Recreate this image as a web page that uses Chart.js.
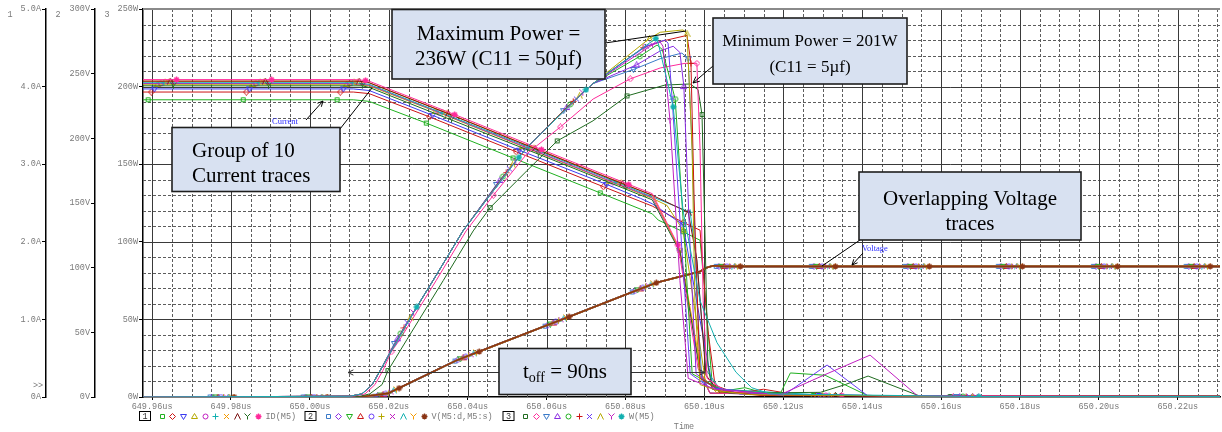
<!DOCTYPE html>
<html>
<head>
<meta charset="utf-8">
<title>ID(M5), V(M5:d,M5:s), W(M5)</title>
<script src="https://cdn.jsdelivr.net/npm/chart.js@4.4.1/dist/chart.umd.min.js"></script>
<style>
  html, body { margin: 0; padding: 0; background: #fff; }
  #wrap { width: 1222px; height: 432px; }
</style>
</head>
<body>
<div id="wrap"><canvas id="chart" width="1222" height="432"></canvas></div>
<script>
// time axis (us)
const X_MIN = 649.9577;
const X_MAX = 650.2307;
const xTickValues = [649.96, 649.98, 650.00, 650.02, 650.04, 650.06, 650.08, 650.10, 650.12, 650.14, 650.16, 650.18, 650.20, 650.22];

// colours / marker shapes per run (PSpice trace cycle)
const shapes = ['sq', 'dia', 'tdn', 'tup', 'circ', 'plus', 'x', 'lam', 'y', 'star'];
const curColors = ['#1fb01f', '#cc1414', '#3a3af0', '#b5a800', '#c01ec0', '#12b0b0', '#f59b00', '#7a1010', '#1f6b1f', '#ff2a9a'];
const voltColors = ['#3a7ac8', '#8a2be2', '#1fb01f', '#cc1414', '#6a3df5', '#b5a800', '#c01ec0', '#12b0b0', '#f59b00', '#8a3414'];
const powColors = ['#1f6b1f', '#ff2a9a', '#3a7ac8', '#8a2be2', '#1fb01f', '#cc1414', '#6a3df5', '#b5a800', '#c01ec0', '#12b0b0'];

// ID(M5), amps. [time, value, marker?]
const curTraces = [
  [[649.9577,3.83],[649.9590,3.83,1],[649.9831,3.83,1],[650.0069,3.83,1],[650.0110,3.83],[650.0150,3.81],[650.0295,3.53,1],[650.0515,3.08,1],[650.0736,2.63,1],[650.0868,2.36],[650.0883,2.28],[650.0946,2.13,1],[650.0989,2.02],[650.1004,1.20],[650.1020,0.15],[650.1052,0.08],[650.1103,0.12],[650.1167,0.03],[650.1276,0.02,1],[650.2307,0.01]],
  [[649.9577,3.93],[649.9598,3.93,1],[649.9839,3.93,1],[650.0077,3.93,1],[650.0110,3.93],[650.0150,3.91],[650.0303,3.61,1],[650.0523,3.16,1],[650.0744,2.71,1],[650.0868,2.46],[650.0946,2.25,1],[650.0989,2.15],[650.1009,0.86],[650.1027,0.15],[650.1080,0.05],[650.1150,0.10],[650.1243,0.02],[650.1284,0.02,1],[650.2307,0.01]],
  [[649.9577,3.97],[649.9606,3.97,1],[649.9847,3.97,1],[650.0085,3.97,1],[650.0110,3.97],[650.0150,3.95],[650.0311,3.63,1],[650.0531,3.18,1],[650.0752,2.74,1],[650.0838,2.56],[650.0868,2.49],[650.0946,2.22,1],[650.0989,0.99],[650.1020,0.15],[650.1065,0.05],[650.1292,0.02,1],[650.2307,0.01]],
  [[649.9577,4.03],[649.9614,4.03,1],[649.9855,4.03,1],[650.0093,4.03,1],[650.0110,4.03],[650.0150,4.01],[650.0319,3.68,1],[650.0539,3.23,1],[650.0760,2.78,1],[650.0868,2.56],[650.0905,2.47],[650.0946,2.15,1],[650.1002,0.22],[650.1040,0.06],[650.1300,0.02,1],[650.2307,0.01]],
  [[649.9577,4.04],[649.9622,4.04,1],[649.9863,4.04,1],[650.0101,4.04,1],[650.0110,4.04],[650.0150,4.02],[650.0327,3.67,1],[650.0547,3.22,1],[650.0768,2.77,1],[650.0868,2.57],[650.0938,1.89,1],[650.0989,0.35],[650.1014,0.05],[650.1308,0.02,1],[650.2307,0.01]],
  [[649.9577,4.05],[649.9630,4.05,1],[649.9871,4.05,1],[650.0109,4.05,1],[650.0112,4.05],[650.0150,4.03],[650.0335,3.66,1],[650.0555,3.22,1],[650.0776,2.77,1],[650.0868,2.58],[650.0964,2.38,1],[650.0981,1.74],[650.1004,0.35],[650.1040,0.10],[650.1316,0.02,1],[650.2307,0.01]],
  [[649.9577,4.07],[649.9638,4.07,1],[649.9879,4.07,1],[650.0110,4.07],[650.0117,4.07,1],[650.0150,4.05],[650.0343,3.67,1],[650.0563,3.22,1],[650.0784,2.77,1],[650.0868,2.60],[650.0938,1.89,1],[650.0994,0.28],[650.1030,0.06],[650.1324,0.02,1],[650.2307,0.01]],
  [[649.9577,4.07],[649.9646,4.07,1],[649.9887,4.07,1],[650.0110,4.07],[650.0125,4.07,1],[650.0150,4.05],[650.0351,3.65,1],[650.0571,3.20,1],[650.0792,2.75,1],[650.0868,2.60],[650.0959,2.38,1],[650.0981,1.77],[650.1004,0.28],[650.1040,0.05],[650.1332,0.02,1],[650.2307,0.01]],
  [[649.9577,4.01],[649.9654,4.01,1],[649.9895,4.01,1],[650.0110,4.01],[650.0133,4.01,1],[650.0150,3.99],[650.0359,3.57,1],[650.0579,3.13,1],[650.0800,2.68,1],[650.0868,2.54],[650.0938,1.87,1],[650.0989,0.32],[650.1014,0.05],[650.1340,0.02,1],[650.2307,0.01]],
  [[649.9577,4.09],[649.9662,4.09,1],[649.9903,4.09,1],[650.0110,4.09],[650.0141,4.08,1],[650.0150,4.07],[650.0367,3.64,1],[650.0587,3.19,1],[650.0808,2.74,1],[650.0868,2.62],[650.0933,1.96,1],[650.0984,0.37],[650.1014,0.05],[650.1348,0.02,1],[650.2307,0.01]]
];

// V(M5:d,M5:s), volts: all 10 runs overlap
const voltLine = [[649.9577,0],[650.0127,0],[650.0198,2.8],[650.0373,28.5],[650.0601,55.4],[650.0819,81.3],[650.0880,88.5],[650.0989,97.1],[650.1007,100.2],[650.1022,101.5],[650.1052,101],[650.2307,101]];
const VOLT_STAGGER = 0.00068;
const voltMarkT = [649.9747, 649.9983, 650.0165, 650.0368, 650.0596, 650.0817, 650.1030, 650.1271, 650.1509, 650.1745, 650.1986, 650.2221];
const voltMarkV = [
  0, 0,
  [0.6, 1.0, 1.5, 2.0, 2.4, 2.9, 3.9, 4.9, 5.9, 6.9],
  [27.8, 28.7, 29.5, 30.3, 31.1, 31.9, 32.7, 33.5, 34.3, 35.1],
  [54.8, 55.6, 56.4, 57.2, 58.0, 58.8, 59.7, 60.5, 61.3, 62.1],
  [81.2, 82.0, 82.8, 83.6, 84.4, 85.2, 86.0, 86.7, 87.5, 88.3],
  101, 101, 101, 101, 101, 101
];

// W(M5), watts
const powRiseMain = [[649.9577,0],[650.0102,0.5],[650.0132,2],[650.0158,8],[650.0178,17],[650.0312,75],[650.0388,107],[650.0551,161],[650.0718,202]];
const powRiseK0 = [[649.9577,0],[650.0127,0.5],[650.0152,2],[650.0183,8],[650.0246,37],[650.0338,75],[650.0414,107],[650.0551,146],[650.0718,178]];
const powRiseK1 = [[649.9577,0],[650.0110,0.5],[650.0140,2],[650.0165,8],[650.0185,17],[650.0228,37],[650.0320,75],[650.0396,107],[650.0551,157],[650.0718,192]];
const powRiseByTrace = [powRiseK0, powRiseK1, powRiseMain, powRiseMain, powRiseMain, powRiseMain, powRiseMain, powRiseMain, powRiseMain, powRiseMain];
const POW_STAGGER = 0.00081;
const powMarkT = [650.0198, 650.0457, 650.0627, 650.0804];
const powMarkW = [
  [17, 29, 34.5, 37.5, 41, 44.5, 48, 51, 54.5, 58],
  [122, 130, 137, 139.5, 142, 144.5, 147, 149.5, 152, 154.5],
  [165, 174, 184.5, 186.5, 188.5, 190.5, 192, 194, 196, 198],
  [194, 205, 211, 214, 219.5, 225, 226, 231, 227, 231]
];
const POW_TAIL_MARK_T = 650.1623;
const POW_TAIL_MARK_W = 0.3;
const powTail = [
  [[650.0900,201],[650.0964,201.7],[650.0984,198],[650.0994,182,1],[650.1002,100],[650.1009,20],[650.1020,5],[650.1065,2.5],[650.1294,3],[650.1357,8],[650.1415,13.5],[650.1547,0.5],[650.2307,0.3]],
  [[650.0888,212],[650.0951,215],[650.0981,215,1],[650.0989,160],[650.0997,62],[650.1007,12],[650.1052,4],[650.1141,1.5],[650.2307,0.3]],
  [[650.0888,218],[650.0943,221.6],[650.0959,218,1],[650.0969,160],[650.0981,62],[650.0994,10],[650.1045,5],[650.1090,2],[650.2307,0.3]],
  [[650.0888,223],[650.0921,226],[650.0938,222],[650.0948,200,1],[650.0964,95],[650.0979,15],[650.1027,6],[650.1090,2],[650.2307,0.3]],
  [[650.0880,226.8],[650.0893,224],[650.0926,192,1],[650.0951,95],[650.0969,15],[650.1040,5],[650.1192,2],[650.1218,15.5],[650.1306,14],[650.1413,1],[650.2307,0.3]],
  [[650.0888,229],[650.0956,233],[650.0966,215,1],[650.0974,127],[650.0989,12],[650.1040,4],[650.1141,1],[650.2307,0.3]],
  [[650.0900,230],[650.0908,228],[650.0918,193,1],[650.0943,95],[650.0964,15],[650.1014,6],[650.1200,1],[650.1311,20.6],[650.1413,1],[650.2307,0.3]],
  [[650.0888,235],[650.0946,236.5],[650.0956,234,1],[650.0969,159],[650.0976,62],[650.0989,8],[650.1035,4],[650.1116,1.5],[650.2307,0.3]],
  [[650.0888,228.7],[650.0895,226],[650.0913,178,1],[650.0938,75],[650.0959,12],[650.1027,5],[650.1192,1.5],[650.1311,15],[650.1420,27],[650.1539,1],[650.2307,0.3]],
  [[650.0883,228],[650.0921,187,1],[650.0946,120],[650.0989,62],[650.1032,35],[650.1080,16],[650.1120,6],[650.1167,2],[650.2307,0.3]]
];

const MONO = '"Liberation Mono", "DejaVu Sans Mono", monospace';
const SERIF = '"Liberation Serif", "Times New Roman", serif';
const GREY = '#7a7a7a';

function makeMarker(shape, color) {
  const cv = document.createElement('canvas');
  cv.width = 7;
  cv.height = 7;
  const g = cv.getContext('2d');
  g.strokeStyle = color;
  g.lineWidth = 1;
  g.beginPath();
  switch (shape) {
    case 'sq': g.rect(1.5, 1.5, 4, 4); break;
    case 'dia': g.moveTo(3.5, 0.5); g.lineTo(6.5, 3.5); g.lineTo(3.5, 6.5); g.lineTo(0.5, 3.5); g.closePath(); break;
    case 'tdn': g.moveTo(0.5, 1.5); g.lineTo(6.5, 1.5); g.lineTo(3.5, 6.5); g.closePath(); break;
    case 'tup': g.moveTo(3.5, 0.5); g.lineTo(6.5, 5.5); g.lineTo(0.5, 5.5); g.closePath(); break;
    case 'circ': g.arc(3.5, 3.5, 2.5, 0, Math.PI * 2); break;
    case 'plus': g.moveTo(3.5, 0.5); g.lineTo(3.5, 6.5); g.moveTo(0.5, 3.5); g.lineTo(6.5, 3.5); break;
    case 'x': g.moveTo(1, 1); g.lineTo(6, 6); g.moveTo(6, 1); g.lineTo(1, 6); break;
    case 'lam': g.moveTo(0.5, 6.5); g.lineTo(3.5, 0.5); g.lineTo(6.5, 6.5); break;
    case 'y': g.moveTo(0.5, 0.5); g.lineTo(3.5, 3.5); g.lineTo(6.5, 0.5); g.moveTo(3.5, 3.5); g.lineTo(3.5, 6.5); break;
    case 'star':
      g.lineWidth = 1.4;
      g.moveTo(3.5, 0.5); g.lineTo(3.5, 6.5); g.moveTo(0.5, 3.5); g.lineTo(6.5, 3.5);
      g.moveTo(1.4, 1.4); g.lineTo(5.6, 5.6); g.moveTo(5.6, 1.4); g.lineTo(1.4, 5.6);
      break;
  }
  g.stroke();
  return cv;
}

function toPoints(rows) {
  return rows.map(r => ({ x: r[0], y: r[1], m: r[2] === 1 })).sort((a, b) => a.x - b.x);
}

function traceDataset(label, rows, axis, color, shape, idx) {
  return {
    label,
    data: toPoints(rows),
    yAxisID: axis,
    borderColor: color,
    backgroundColor: color,
    borderWidth: axis === 'yV' ? 1.6 : 1,
    pointStyle: makeMarker(shape, color),
    pointRadius: ctx => (ctx.raw && ctx.raw.m ? 3 : 0),
    pointHoverRadius: 0,
    tension: 0,
    fill: false,
    order: -idx
  };
}

const datasets = [];
curTraces.forEach((rows, k) => {
  datasets.push(traceDataset('ID(M5) ' + (k + 1), rows, 'yA', curColors[k], shapes[k], datasets.length));
});
for (let k = 0; k < 10; k++) {
  const marks = voltMarkT.map((t, c) => [t + k * VOLT_STAGGER, Array.isArray(voltMarkV[c]) ? voltMarkV[c][k] : voltMarkV[c], 1]);
  datasets.push(traceDataset('V(M5:d,M5:s) ' + (k + 1), voltLine.concat(marks), 'yV', voltColors[k], shapes[k], datasets.length));
}
for (let k = 0; k < 10; k++) {
  const marks = powMarkT.map((t, c) => [t + k * POW_STAGGER, powMarkW[c][k], 1]);
  marks.push([POW_TAIL_MARK_T + k * POW_STAGGER, POW_TAIL_MARK_W, 1]);
  const rows = powRiseByTrace[k].concat(marks, powTail[k]);
  datasets.push(traceDataset('W(M5) ' + (k + 1), rows, 'y', powColors[k], shapes[k], datasets.length));
}

// dashed minor / solid major grid, as in the probe window
const gridPlugin = {
  id: 'probeGrid',
  beforeDatasetsDraw(chart) {
    const { ctx, chartArea: a, scales } = chart;
    const xs = scales.x, ys = scales.y;
    const seg = (x1, y1, x2, y2) => { ctx.beginPath(); ctx.moveTo(x1, y1); ctx.lineTo(x2, y2); ctx.stroke(); };
    ctx.save();
    ctx.lineWidth = 1;
    ctx.strokeStyle = '#5c5c5c';
    ctx.setLineDash([3, 2]);
    for (let j = 0; j <= 54; j++) {
      if (j % 4 === 0) continue;
      const px = Math.round(xs.getPixelForValue(649.96 + j * 0.005)) + 0.5;
      if (px > a.left && px < a.right) seg(px, a.top, px, a.bottom);
    }
    for (let w = 10; w < 250; w += 10) {
      if (w % 50 === 0) continue;
      const py = Math.round(ys.getPixelForValue(w)) + 0.5;
      seg(a.left, py, a.right, py);
    }
    ctx.setLineDash([]);
    ctx.strokeStyle = '#3a3a3a';
    for (let j = 0; j <= 54; j += 4) {
      const px = Math.round(xs.getPixelForValue(649.96 + j * 0.005)) + 0.5;
      if (px > a.left && px < a.right) seg(px, a.top, px, a.bottom);
    }
    for (let w = 50; w < 250; w += 50) {
      const py = Math.round(ys.getPixelForValue(w)) + 0.5;
      seg(a.left, py, a.right, py);
    }
    ctx.strokeStyle = '#8a8a8a';
    ctx.lineWidth = 2;
    seg(a.left, a.top, a.right, a.top);
    ctx.restore();
  }
};

function arrow(c, x1, y1, x2, y2, head) {
  c.beginPath(); c.moveTo(x1, y1); c.lineTo(x2, y2); c.stroke();
  if (head) {
    const ang = Math.atan2(y2 - y1, x2 - x1);
    c.beginPath();
    c.moveTo(x2 - head * Math.cos(ang - 0.45), y2 - head * Math.sin(ang - 0.45));
    c.lineTo(x2, y2);
    c.lineTo(x2 - head * Math.cos(ang + 0.45), y2 - head * Math.sin(ang + 0.45));
    c.stroke();
  }
}

function callout(c, x, y, w, h) {
  c.fillStyle = '#d8e1f1';
  c.fillRect(x, y, w, h);
  c.strokeStyle = '#1e1e1e';
  c.lineWidth = 1.6;
  c.strokeRect(x, y, w, h);
}

const overlayPlugin = {
  id: 'overlay',
  afterDraw(chart) {
    const c = chart.ctx;
    c.save();

    // axis numbers and the >> mark
    c.font = '8.5px ' + MONO;
    c.fillStyle = GREY;
    c.textAlign = 'center';
    c.textBaseline = 'middle';
    c.fillText('1', 10, 15);
    c.fillText('2', 58, 15);
    c.fillText('3', 107, 15);
    c.fillText('>>', 38, 386);

    // pointer lines
    c.strokeStyle = '#000';
    c.lineWidth = 1;
    arrow(c, 605, 43, 686, 31, 0);
    arrow(c, 713, 66, 693, 83, 7);
    arrow(c, 340, 129, 372, 88, 0);
    arrow(c, 306, 120, 323, 101, 6);
    arrow(c, 860, 240, 822, 266, 0);
    arrow(c, 863, 253, 852, 265, 6);
    c.strokeStyle = '#333';
    arrow(c, 499, 372.5, 348, 372.5, 6);
    arrow(c, 631, 372.5, 705, 372.5, 6);

    // callout boxes
    callout(c, 392, 9.5, 213, 69.5);
    callout(c, 713, 18, 194, 66);
    callout(c, 172, 127.5, 168, 64);
    callout(c, 859, 172, 222, 68);
    callout(c, 499, 348.5, 132, 46);

    c.fillStyle = '#000';
    c.textBaseline = 'alphabetic';
    c.textAlign = 'center';
    c.font = '21px ' + SERIF;
    c.fillText('Maximum Power =', 498.5, 40);
    c.fillText('236W (C11 = 50\u00b5f)', 498.5, 65);
    c.font = '17px ' + SERIF;
    c.fillText('Minimum Power = 201W', 810, 46);
    c.fillText('(C11 = 5\u00b5f)', 810, 72);
    c.font = '21px ' + SERIF;
    c.fillText('Overlapping Voltage', 970, 205);
    c.fillText('traces', 970, 230);
    c.textAlign = 'left';
    c.fillText('Group of 10', 192, 157);
    c.fillText('Current traces', 192, 182);

    // t_off = 90ns with subscript
    const big = '21px ' + SERIF, small = '14px ' + SERIF;
    c.font = big; const wT = c.measureText('t').width; const wEq = c.measureText(' = 90ns').width;
    c.font = small; const wSub = c.measureText('off').width;
    let tx = 565 - (wT + wSub + wEq) / 2;
    c.font = big; c.fillText('t', tx, 378); tx += wT;
    c.font = small; c.fillText('off', tx, 382); tx += wSub;
    c.font = big; c.fillText(' = 90ns', tx, 378);

    c.font = '8.5px ' + SERIF;
    c.fillStyle = '#2b2bff';
    c.fillText('Current', 272, 124);
    c.fillText('Voltage', 862, 251);

    // probe legend row
    c.font = '8.5px ' + MONO;
    c.textBaseline = 'middle';
    const groups = [
      { box: '1', bx: 139.5, mx: 161.7, colors: curColors, text: 'ID(M5)', tx: 265.5 },
      { box: '2', bx: 305, mx: 327.7, colors: voltColors, text: 'V(M5:d,M5:s)', tx: 431.5 },
      { box: '3', bx: 503, mx: 525, colors: powColors, text: 'W(M5)', tx: 629 }
    ];
    for (const gr of groups) {
      c.strokeStyle = '#000';
      c.lineWidth = 1;
      c.strokeRect(gr.bx, 411.5, 11, 9);
      c.fillStyle = '#333';
      c.textAlign = 'center';
      c.fillText(gr.box, gr.bx + 5.5, 416.5);
      for (let i = 0; i < 10; i++) {
        c.drawImage(makeMarker(shapes[i], gr.colors[i]), Math.round(gr.mx + i * 10.7) - 3, 413);
      }
      c.fillStyle = GREY;
      c.textAlign = 'left';
      c.fillText(gr.text, gr.tx, 416.5);
    }
    c.textAlign = 'center';
    c.fillText('Time', 684, 427);
    c.restore();
  }
};

const tickFont = { family: MONO, size: 8.5 };

function leftAxis(weight, width, min, max, step, fmt) {
  return {
    type: 'linear',
    position: 'left',
    weight,
    min,
    max,
    ticks: { stepSize: step, color: GREY, font: tickFont, padding: 1, callback: fmt, autoSkip: false },
    grid: { drawOnChartArea: false, drawTicks: true, tickLength: 4, tickColor: '#000', tickWidth: 1 },
    border: { color: '#000', width: 1.5 },
    afterFit: s => { s.width = width; }
  };
}

new Chart(document.getElementById('chart'), {
  type: 'line',
  data: { datasets },
  options: {
    responsive: false,
    animation: false,
    events: [],
    layout: { padding: { top: 9, right: 2, left: 0, bottom: 0 } },
    plugins: { legend: { display: false }, tooltip: { enabled: false }, title: { display: false } },
    scales: {
      x: {
        type: 'linear',
        min: X_MIN,
        max: X_MAX,
        afterBuildTicks: s => { s.ticks = xTickValues.map(v => ({ value: v })); },
        ticks: { color: GREY, font: tickFont, maxRotation: 0, autoSkip: false, padding: 2, callback: v => v.toFixed(2) + 'us' },
        grid: { drawOnChartArea: false, drawTicks: true, tickLength: 3, tickColor: '#000' },
        border: { color: '#000', width: 1.5 },
        afterFit: s => { s.height = 35; }
      },
      yA: leftAxis(2, 46, 0, 5, 1, v => (v === 0 ? '0A' : v.toFixed(1) + 'A')),
      yV: leftAxis(1, 49, 0, 300, 50, v => v + 'V'),
      y: leftAxis(0, 48, 0, 250, 50, v => v + 'W')
    }
  },
  plugins: [gridPlugin, overlayPlugin]
});
</script>
</body>
</html>
